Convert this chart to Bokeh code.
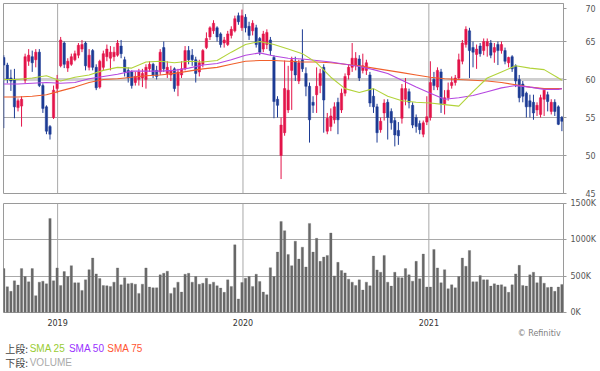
import pandas as pd
from bokeh.plotting import figure
from bokeh.layouts import column
from bokeh.models import (ColumnDataSource, Range1d, FixedTicker, CustomJSTickFormatter, Span)
from bokeh.embed import file_html
from bokeh.resources import INLINE
from bokeh.core.properties import value

# ---------------- data (weekly) ----------------
start_date = "2018-09-17"

opens = [62.9, 61.9, 60.2, 60.0, 56.3, 56.5, 59.9, 62.4, 63.0, 62.6,
         63.6, 59.2, 56.4, 53.8, 55.0, 58.8, 61.8, 64.8, 61.5, 62.0,
         62.6, 63.2, 64.0, 64.8, 61.6, 63.8, 61.6, 59.0, 61.6, 63.0,
         62.8, 63.0, 63.2, 64.4, 62.6, 61.2, 61.0, 59.6, 60.0, 60.2,
         60.0, 61.4, 62.0, 61.2, 61.0, 64.2, 60.8, 60.6, 61.4, 59.2,
         60.6, 61.4, 63.8, 63.2, 62.6, 61.0, 62.0, 64.2, 65.6, 66.4,
         66.8, 66.0, 64.8, 64.6, 65.8, 66.4, 68.4, 66.8, 68.2, 67.0,
         66.4, 66.8, 65.4, 64.0, 64.6, 65.2, 62.9, 57.4, 50.0, 53.0,
         56.0, 61.2, 62.4, 59.8, 62.6, 60.8, 59.1, 57.0, 58.0, 59.2,
         61.6, 53.2, 53.8, 54.7, 57.0, 56.0, 58.2, 60.6, 61.6, 61.8,
         62.7, 61.2, 61.2, 60.6, 57.8, 56.4, 53.4, 55.6, 57.0, 55.8,
         54.6, 53.3, 54.9, 57.4, 58.4, 56.6, 55.0, 54.2, 52.8, 54.4,
         55.0, 60.0, 59.0, 61.0, 56.8, 57.6, 59.2, 59.6, 60.2, 62.4,
         64.6, 66.4, 64.2, 63.3, 64.4, 63.8, 64.4, 64.8, 63.6, 64.6,
         63.8, 63.8, 62.2, 63.0, 61.8, 60.0, 59.4, 58.2, 57.2, 57.0,
         56.0, 55.4, 57.4, 58.0, 55.8, 57.0, 56.4, 55.0]
highs = [63.2, 62.2, 61.3, 61.4, 57.5, 57.8, 63.4, 64.0, 63.8, 64.0,
         64.0, 59.5, 56.6, 54.0, 59.2, 60.6, 65.6, 65.0, 62.8, 63.4,
         63.8, 64.8, 65.2, 65.0, 64.0, 64.0, 62.0, 62.6, 63.8, 64.6,
         64.4, 64.3, 65.2, 65.2, 63.0, 61.6, 61.2, 61.0, 61.4, 61.4,
         62.0, 62.4, 62.2, 61.8, 64.0, 65.0, 62.4, 61.8, 61.6, 61.4,
         62.4, 64.4, 64.4, 64.0, 63.0, 62.6, 64.0, 66.2, 67.0, 67.8,
         67.0, 66.2, 65.6, 66.4, 67.0, 68.4, 68.8, 69.2, 68.6, 67.6,
         67.8, 67.2, 65.6, 66.4, 66.6, 65.6, 63.2, 57.8, 55.0, 62.5,
         61.8, 63.0, 63.0, 62.6, 66.6, 61.6, 59.6, 57.8, 61.6, 61.4,
         62.0, 55.6, 56.2, 57.0, 57.6, 58.8, 60.8, 62.0, 64.8, 63.6,
         63.2, 63.4, 62.6, 61.0, 58.8, 56.8, 55.0, 57.4, 57.4, 56.2,
         55.0, 54.4, 59.4, 60.2, 58.8, 57.0, 55.4, 54.6, 54.6, 57.8,
         62.4, 61.0, 61.6, 61.4, 58.6, 59.6, 60.4, 60.6, 63.4, 65.2,
         67.0, 66.8, 65.0, 64.6, 64.8, 65.4, 65.4, 65.2, 64.8, 65.0,
         65.0, 64.2, 63.0, 63.2, 62.0, 60.6, 59.8, 58.4, 58.0, 58.0,
         57.0, 58.0, 58.8, 58.4, 57.4, 57.4, 56.6, 55.2]
lows = [53.6, 59.5, 58.5, 54.9, 55.8, 53.8, 59.5, 61.8, 61.0, 61.6,
        59.0, 55.6, 52.8, 52.1, 54.8, 58.2, 61.6, 61.5, 61.0, 61.8,
        62.4, 62.8, 63.6, 61.2, 61.2, 61.2, 58.6, 58.8, 61.2, 62.4,
        61.2, 62.4, 63.0, 62.8, 60.4, 59.6, 58.8, 59.2, 59.2, 59.0,
        58.8, 61.0, 60.2, 60.0, 60.6, 61.0, 60.2, 59.8, 58.4, 57.8,
        60.2, 61.2, 62.0, 61.8, 59.6, 60.4, 61.6, 64.0, 65.2, 66.0,
        65.0, 64.2, 64.2, 64.4, 65.4, 66.2, 67.2, 66.4, 66.2, 65.2,
        65.8, 64.2, 63.2, 63.6, 64.0, 63.2, 54.9, 55.0, 46.9, 52.6,
        55.6, 56.0, 59.8, 59.4, 61.0, 57.8, 51.7, 55.6, 55.6, 58.2,
        53.0, 52.8, 53.2, 54.2, 52.8, 55.6, 57.8, 60.0, 61.0, 61.2,
        59.8, 60.8, 60.6, 56.4, 55.6, 51.7, 53.0, 54.6, 52.1, 53.4,
        51.2, 51.4, 54.2, 56.6, 56.2, 53.6, 53.0, 52.8, 52.4, 54.0,
        54.6, 58.6, 58.6, 55.6, 55.4, 57.2, 58.8, 59.2, 60.0, 62.0,
        64.2, 60.2, 61.6, 61.4, 63.0, 63.2, 63.0, 62.8, 62.2, 61.9,
        63.4, 62.0, 61.6, 61.0, 59.0, 57.0, 57.0, 55.0, 55.0, 54.7,
        55.2, 55.0, 55.2, 55.8, 55.4, 55.2, 54.0, 53.2]
closes = [61.9, 60.0, 59.8, 56.4, 57.2, 57.4, 63.0, 63.2, 62.2, 63.6,
          59.2, 56.2, 53.2, 52.8, 58.6, 59.9, 65.2, 62.0, 62.4, 63.0,
          63.4, 64.5, 64.6, 61.8, 63.2, 61.6, 58.9, 62.4, 63.4, 64.0,
          63.6, 63.6, 64.8, 63.4, 61.0, 60.2, 59.2, 60.4, 61.0, 60.8,
          61.6, 62.0, 60.6, 60.4, 63.6, 61.4, 61.6, 61.2, 58.8, 61.0,
          61.4, 63.8, 62.6, 62.6, 60.8, 62.2, 63.8, 65.4, 66.8, 67.4,
          65.6, 64.6, 65.2, 66.0, 66.6, 68.0, 67.6, 68.4, 66.8, 65.8,
          67.4, 64.6, 63.6, 66.0, 66.2, 63.8, 57.1, 56.6, 54.0, 58.8,
          58.6, 62.6, 60.6, 62.2, 61.4, 59.1, 54.7, 56.6, 59.1, 60.8,
          57.3, 54.9, 55.2, 56.4, 54.7, 58.2, 60.4, 61.6, 62.8, 62.8,
          60.2, 61.8, 62.2, 56.9, 56.4, 53.0, 54.5, 56.9, 55.0, 54.3,
          52.7, 52.6, 58.8, 58.8, 57.0, 54.0, 53.8, 53.4, 54.3, 55.1,
          59.6, 59.2, 61.2, 56.8, 57.6, 58.6, 59.6, 60.2, 62.6, 64.8,
          66.6, 63.8, 63.6, 64.0, 63.4, 65.0, 65.0, 63.2, 64.2, 63.8,
          64.6, 62.4, 62.9, 61.4, 59.8, 57.6, 57.8, 56.4, 56.4, 55.6,
          56.6, 57.6, 58.6, 57.1, 57.0, 55.8, 54.1, 54.5]
volume_k = [604, 354, 291, 436, 377, 604, 495, 422, 604, 232,
            418, 431, 395, 1294, 436, 613, 372, 563, 495, 645,
            409, 409, 304, 449, 590, 749, 531, 468, 372, 368,
            359, 418, 613, 381, 477, 395, 404, 390, 263, 390,
            613, 350, 340, 340, 518, 540, 568, 263, 340, 418,
            281, 527, 540, 418, 495, 390, 404, 472, 390, 418,
            368, 336, 277, 449, 359, 931, 186, 413, 472, 495,
            359, 527, 427, 281, 245, 617, 495, 831, 1253, 1126,
            799, 645, 981, 735, 899, 626, 1226, 831, 1021, 704,
            763, 785, 1094, 504, 690, 577, 545, 459, 418, 372,
            449, 309, 418, 368, 776, 586, 554, 785, 418, 363,
            554, 481, 477, 604, 518, 431, 704, 463, 804, 350,
            350, 867, 613, 409, 590, 327, 381, 340, 495, 749,
            636, 853, 422, 422, 508, 449, 449, 363, 395, 377,
            381, 354, 277, 381, 531, 649, 372, 363, 518, 554,
            409, 495, 404, 345, 350, 291, 350, 386]

# moving averages, read at every 4th week (week index)
sma_week = [0, 4, 8, 12, 16, 20, 24, 28, 32, 36, 40, 44, 48, 52, 56, 60, 64, 68, 72, 76,
            80, 84, 88, 92, 96, 100, 104, 108, 112, 116, 120, 124, 128, 132, 136, 140,
            144, 148, 152, 156, 157]
sma25 = [60.0, 60.0, 60.2, 60.5, 59.8, 60.3, 60.6, 61.2, 61.6, 61.5, 62.3, 62.4, 62.2, 62.4,
         62.3, 62.5, 63.6, 64.6, 65.0, 64.6, 64.0, 63.4, 62.2, 60.3, 58.8, 58.3, 58.8, 57.8,
         57.2, 57.0, 56.9, 56.7, 56.5, 58.4, 60.2, 61.0, 61.8, 61.5, 61.3, 60.2, 59.9]
sma50 = [59.4, 59.4, 59.5, 59.6, 59.5, 59.6, 60.1, 60.4, 60.7, 61.1, 61.1, 61.1, 61.2, 61.5,
         61.9, 62.1, 62.6, 63.2, 63.5, 63.1, 62.8, 62.7, 62.5, 62.3, 62.0, 61.7, 61.3, 60.8,
         59.9, 59.0, 58.2, 57.4, 57.6, 57.9, 58.4, 58.9, 59.2, 59.0, 58.7, 58.7, 58.8]
sma75 = [57.7, 57.7, 57.8, 58.0, 58.5, 59.0, 59.6, 60.0, 60.1, 60.3, 60.5, 60.6, 60.8, 61.1,
         61.4, 61.6, 62.0, 62.4, 62.5, 62.5, 62.4, 62.3, 62.3, 62.2, 62.0, 61.8, 61.5, 61.2,
         60.9, 60.6, 60.3, 60.1, 60.0, 59.9, 59.8, 59.6, 59.3, 59.0, 58.8, 58.8, 58.8]

year_labels = ["2019", "2020", "2021"]
price_ticks = [45, 50, 55, 60, 65, 70]
volume_ticks = [0, 500, 1000, 1500]

# ---------------- derived structures ----------------
dates = pd.date_range(start_date, periods=len(opens), freq="7D")
WEEK = 7 * 24 * 3600 * 1000
date_ms = [d.value // 10**6 for d in dates]
year_ms = [pd.Timestamp(f"{y}-01-01").value // 10**6 for y in year_labels]

UP, DOWN = "#e3144a", "#1d3b94"
src = ColumnDataSource(dict(
    date=dates,
    open=opens, high=highs, low=lows, close=closes,
    top=[max(o, c) for o, c in zip(opens, closes)],
    bottom=[min(o, c) for o, c in zip(opens, closes)],
    color=[UP if c >= o else DOWN for o, c in zip(opens, closes)],
    volume=volume_k,
))
sma_src = ColumnDataSource(dict(
    date=[dates[i] for i in sma_week], s25=sma25, s50=sma50, s75=sma75))

xr = Range1d(date_ms[0] - 0.08 * WEEK, date_ms[-1] + 0.45 * WEEK)

FW = 560          # frame width (px)
PH = 190          # price frame height (px)
AX_FONT = "DejaVu Sans"
AX_COLOR = "#555555"
GRID = "#a9a9a9"
FRAME = "#9a9a9a"

# the top label sits just inside the frame (as in the reference): place its tick
# a few pixels below the top edge
pmin, pmax = price_ticks[0], price_ticks[-1]
top_tick = pmax - 5.0 * (pmax - pmin) / PH

# ---------------- price panel ----------------
p1 = figure(frame_width=FW, frame_height=PH, x_range=xr, y_range=Range1d(pmin, pmax),
            x_axis_type="datetime", x_axis_location=None, y_axis_location="right",
            output_backend="svg", toolbar_location=None,
            min_border_left=3, min_border_top=3, min_border_bottom=5, min_border_right=0)
p1.outline_line_color = FRAME
p1.yaxis.ticker = FixedTicker(ticks=price_ticks[:-1] + [top_tick])
p1.yaxis.formatter = CustomJSTickFormatter(
    args=dict(top=top_tick, lab=str(pmax)),
    code="return tick >= top - 1e-6 ? lab : tick.toFixed(0)")
p1.yaxis.major_label_text_font = AX_FONT
p1.yaxis.major_label_text_font_size = "8px"
p1.yaxis.major_label_text_color = AX_COLOR
p1.yaxis.major_label_standoff = 19
p1.yaxis.major_tick_out = 3
p1.yaxis.major_tick_in = 0
p1.yaxis.minor_tick_out = 0
p1.yaxis.minor_tick_in = 0
p1.yaxis.axis_line_color = FRAME
p1.yaxis.major_tick_line_color = FRAME
p1.ygrid.ticker = FixedTicker(ticks=[50, 55, 65])
p1.ygrid.grid_line_color = GRID
p1.xgrid.grid_line_color = None
p1.add_layout(Span(location=60, dimension="width", line_color="#cfcfcf", line_width=3,
                   level="underlay"))
for ym in year_ms:
    p1.add_layout(Span(location=ym, dimension="height", line_color=GRID, line_width=1,
                       level="underlay"))

p1.segment(x0="date", y0="high", x1="date", y1="low", line_color="color", line_width=1,
           source=src)
p1.vbar(x="date", width=0.66 * WEEK, top="top", bottom="bottom", fill_color="color",
        line_color="color", line_width=0.5, source=src)
p1.line(x="date", y="s75", line_color="#f0602c", line_width=1.1, source=sma_src)
p1.line(x="date", y="s50", line_color="#b547e0", line_width=1.1, source=sma_src)
p1.line(x="date", y="s25", line_color="#b2d33a", line_width=1.1, source=sma_src)

# ---------------- volume panel ----------------
p2 = figure(frame_width=FW, frame_height=109, x_range=xr, y_range=Range1d(0, 1500),
            x_axis_type="datetime", y_axis_location="right",
            output_backend="svg", toolbar_location=None,
            min_border_left=3, min_border_top=5, min_border_bottom=0, min_border_right=0)
p2.outline_line_color = FRAME
p2.yaxis.ticker = FixedTicker(ticks=volume_ticks)
p2.yaxis.formatter = CustomJSTickFormatter(code="return tick.toFixed(0) + 'K'")
p2.yaxis.major_label_text_font = AX_FONT
p2.yaxis.major_label_text_font_size = "8px"
p2.yaxis.major_label_text_color = AX_COLOR
p2.yaxis.major_label_standoff = 4
p2.yaxis.major_tick_out = 3
p2.yaxis.major_tick_in = 0
p2.yaxis.minor_tick_out = 0
p2.yaxis.minor_tick_in = 0
p2.yaxis.axis_line_color = FRAME
p2.yaxis.major_tick_line_color = FRAME
p2.xaxis.ticker = FixedTicker(ticks=year_ms)
p2.xaxis.formatter = CustomJSTickFormatter(
    code="return String(new Date(tick).getUTCFullYear())")
p2.xaxis.major_label_text_font = AX_FONT
p2.xaxis.major_label_text_font_size = "8px"
p2.xaxis.major_label_text_color = "#333333"
p2.xaxis.major_label_standoff = 6
p2.xaxis.major_tick_out = 0
p2.xaxis.major_tick_in = 0
p2.xaxis.minor_tick_out = 0
p2.xaxis.minor_tick_in = 0
p2.xaxis.axis_line_color = None
p2.ygrid.ticker = FixedTicker(ticks=[500, 1000])
p2.ygrid.grid_line_color = GRID
p2.xgrid.grid_line_color = None
for ym in year_ms:
    p2.add_layout(Span(location=ym, dimension="height", line_color=GRID, line_width=1,
                       level="underlay"))
p2.vbar(x="date", width=0.66 * WEEK, top="volume", bottom=0, fill_color="#686868",
        line_color="#686868", line_width=0.3, source=src)

# ---------------- legend / credit strip ----------------
p3 = figure(width=600, height=43, x_range=Range1d(0, 600), y_range=Range1d(43, 0),
            x_axis_location=None, y_axis_location=None, output_backend="svg",
            toolbar_location=None, min_border=0)
p3.outline_line_color = None
p3.xgrid.visible = False
p3.ygrid.visible = False
p3.text(x=[596], y=[5], text=["© Refinitiv"], text_align="right", text_baseline="middle",
        text_font=value(AX_FONT), text_font_size="8px", text_color="#808080")
CJK = value("Noto Sans CJK JP")
LAT = value("Liberation Sans")
p3.text(x=[2, 2], y=[20, 34], text=["上段:", "下段:"], text_baseline="middle",
        text_font=CJK, text_font_size="10px", text_color="#444444")
p3.text(x=[28], y=[20], text=["SMA 25"], text_baseline="middle", text_font=LAT,
        text_font_size="10px", text_color="#99cc33")
p3.text(x=[70], y=[20], text=["SMA 50"], text_baseline="middle", text_font=LAT,
        text_font_size="10px", text_color="#9933ff")
p3.text(x=[111], y=[20], text=["SMA 75"], text_baseline="middle", text_font=LAT,
        text_font_size="10px", text_color="#ff5533")
p3.text(x=[28], y=[34], text=["VOLUME"], text_baseline="middle", text_font=LAT,
        text_font_size="10px", text_color="#aaaaaa")

layout = column(p1, p2, p3, spacing=0)
open("out.html", "w").write(file_html(layout, INLINE))
